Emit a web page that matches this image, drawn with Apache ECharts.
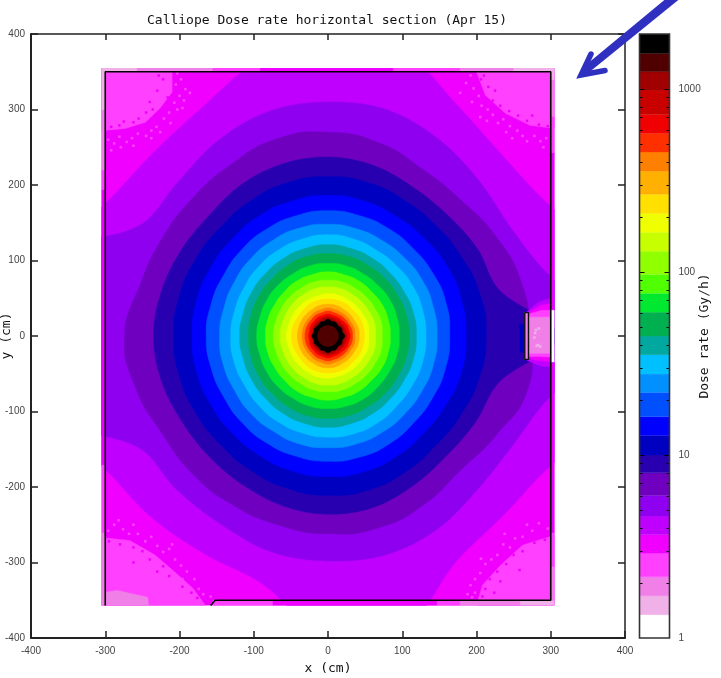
<!DOCTYPE html>
<html><head><meta charset="utf-8">
<style>html,body{margin:0;padding:0;background:#fff}#c{width:721px;height:678px}</style>
<script src="https://cdn.jsdelivr.net/npm/echarts@6/dist/echarts.min.js"></script>
</head><body><div id="c"></div>
<script>
// Dose-rate colour classes, low to high
const levels = [1,1.34,1.7,2.16,2.9,3.67,4.64,6,8,10,12.8,16.2,22,27.7,35.3,44.7,60.4,76.5,97,130,165,209,266,356,453,573,727,988,1243,1567,2000];
const colors = ['#ffffff','#f0b0e8','#f080e8','#ff40ff','#f000ff','#c000ff','#9000f0','#7000c0','#2800b0','#0000c0','#0000ff','#0050ff','#0090ff','#00c0ff','#00a8a0','#00b050','#00e830','#50ff00','#90ff00','#c8ff00','#f0ff00','#ffe000','#ffb000','#ff8000','#ff3000','#f00000','#c80000','#a00000','#500000','#000000'];
const minorTicks = [2,3,4,5,6,7,8,9,20,30,40,50,60,70,80,90,200,300,400,500,600,700,800,900];
const majorTicks = [10,100,1000];

// Contour radii (cm) read every 15 degrees, counter-clockwise from +x
const angleStep = 15;
const ring05 = [400,400,345,335,351,390,400,375,346,338,348,400,400,400,349,338,333,340,400,400,345,335,345,400];
const ring06 = [400,309,285,289,300,310,310,308,298,287,293,400,400,400,295,288,288,296,298,300,295,286,288,310];
const ring07 = [272,270,262,254,255,265,270,270,262,258,258,262,274,268,258,258,258,259,262,263,258,252,262,278];
const ring08 = [310,238,232,227,228,234,237,236,232,226,228,232,235,232,227,226,228,233,236,235,229,225,229,238];
const ring09 = [213,212,208,206,207,210,211,210,207,204,205,207,208,207,205,204,206,209,211,211,208,205,207,211];
const ring10 = [186,186,185,183,183,185,186,185,184,182,182,183,183,183,182,182,183,185,186,186,184,182,183,186];
const ring11 = [164,165,164,163,164,165,166,165,164,163,162,163,164,163,162,163,164,165,166,166,165,163,163,164];
const ring12 = [147,147,147,146,146,147,148,148,147,146,145,145,146,146,145,146,146,148,148,148,147,146,146,147];
const ring13 = [132,132,132,131,131,133,134,133,132,131,130,130,131,131,130,131,132,133,134,134,133,131,131,132];
const ring14 = [119,119,118,118,119,120,121,120,119,118,118,118,119,118,118,118,119,120,121,120,119,118,118,119];
const ring15 = [109,109,108,108,108,109,109,109,108,107,107,107,107,107,107,107,108,109,109,109,108,108,108,109];
const ring16 = [96,96,96,95,95,96,96,96,95,95,95,95,96,95,95,95,95,96,96,96,96,95,95,96];
const ring17 = [84,84,84,83,84,84,85,84,84,83,83,84,84,84,83,83,84,84,85,84,84,83,84,84];
const ring18 = [73,74,73,73,73,74,74,74,73,73,73,73,74,73,73,73,73,74,74,74,73,73,73,74];
const ring19 = [64,65,64,64,64,65,65,65,64,64,64,64,65,64,64,64,64,65,65,65,64,64,64,65];
const ring20 = [55,56,55,55,55,56,56,55,55,55,55,55,56,55,55,55,55,56,56,55,55,55,55,56];
const ring21 = [49,49,49,48,49,49,49,49,49,48,48,49,49,49,48,48,49,49,49,49,49,48,49,49];
const ring22 = [42,42,41,41,41,42,42,42,41,41,41,41,41,41,41,41,41,42,42,42,41,41,41,42];
const ring23 = [36,37,36,36,36,36,37,36,36,35,35,35,35,35,35,35,36,36,37,36,36,36,36,37];
const ring24 = [33,33,32,32,32,32,33,32,32,31,31,31,31,31,31,31,32,32,33,32,32,32,32,33];
const ring25 = [30,29,29,28,28,28,29,28,28,27,27,26,26,26,27,27,28,28,29,28,28,28,29,29];
const ring26 = [26,26,25,25,25,25,26,25,25,24,24,23,23,23,24,24,25,25,26,25,25,25,25,26];
const ring27 = [24,23,23,22,22,23,23,23,22,22,21,21,20,21,21,22,22,23,23,23,22,22,23,23];
const ring29 = [23,20,21,19,21,20,23,20,21,19,21,20,22,20,21,19,21,20,23,20,21,19,21,20];
const ring28 = [14,14,14,14,14,14,14,14,14,14,14,14,14,14,14,14,14,14,14,14,14,14,14,14];

// Section outline and other polygons read in cm
const sectionBox = [-305,355,305,355,305,-357,-305,-357];
const patchTopLeft = [-360,400,-210,400,-210,323,-226,302,-246,283,-273,275,-304,272,-360,272];
const patchTopRight = [198,400,198,355,212,319,239,295,272,279,305,275,360,275,360,400];
const patchBottomLeft = [-360,-267,-304,-267,-267,-271,-233,-290,-206,-313,-182,-334,-165,-357,-160,-400,-360,-400];
const patchBottomRight = [360,-264,305,-264,262,-277,232,-304,208,-330,202,-350,200,-400,360,-400];
const blotchBottomLeft = [-310,-341,-284,-337,-243,-346,-239,-380,-310,-380];
const doorStrip = [258,16,265,16,265,-21,258,-21];
const door5 = [268,32,284,45,300,50,300,-41,284,-39,268,-32];
const door4 = [270,31,288,41,300,43,300,-34,280,-32,270,-29];
const door3 = [270,29,288,34,300,34,300,-28,284,-27,270,-27];
const door2 = [270,25,300,25,300,-23,270,-23];
const shutter = [265,31,270,31,270,-31,265,-31];

// Scattered cells beside the corner patches: x, y pairs
const speckLight = [
 -203,348,-198,340,-205,333,-192,327,-186,322,-200,318,-207,309,-194,312,-214,296,-203,300,-221,288,-212,282,-231,277,-226,270,-238,272,-245,265,-256,268,-264,262,-271,257,-281,264,-288,255,-296,260,-292,246,-279,250,-262,252,-196,302,-238,262,
 192,345,186,335,196,328,203,318,194,310,207,305,215,300,222,293,214,285,229,282,236,287,245,278,240,270,255,272,262,265,268,258,278,265,286,258,294,262,290,250,248,262,205,290,178,322,
 -296,-258,-288,-250,-276,-256,-268,-262,-256,-262,-246,-272,-238,-266,-230,-278,-222,-286,-214,-282,-206,-296,-198,-304,-190,-312,-196,-322,-180,-322,-174,-335,-168,-342,-158,-345,-282,-244,-262,-250,-210,-276,
 296,-255,284,-248,275,-258,262,-266,252,-268,245,-280,236,-276,228,-290,220,-296,212,-302,205,-314,198,-322,192,-330,198,-340,188,-342,194,-346,268,-250,238,-262,206,-295];
const speckDark = [
 -222,340,-230,325,-216,316,-236,300,-245,296,-255,288,-262,283,-281,279,-292,277,-275,284,-240,310,-228,345,
 206,340,216,330,222,312,232,305,244,298,256,292,268,285,284,280,296,278,275,292,225,325,210,345,
 -295,-272,-280,-276,-262,-280,-250,-285,-240,-296,-222,-305,-214,-318,-196,-332,-184,-340,-176,-347,-230,-312,-262,-300,
 292,-270,278,-274,262,-285,250,-290,240,-302,228,-312,218,-322,212,-335,208,-345,232,-325,258,-310,224,-340];
const speckDoor = [280,8,284,10,279,4,278,-2,281,-13,286,-14,283,-12];

// Outer fringe strips: x1, y1, x2, y2, colour class
const fringeTop = [[-305,350,-257,355,1],[-257,350,-155,355,2],[-155,350,-91,355,3],[-91,350,88,355,4],[88,350,178,355,3],[178,350,250,355,2],[250,350,305,355,1]];
const fringeBottom = [[-155,-357,-74,-350,3],[-74,-357,147,-350,4],[147,-357,178,-350,3],[178,-357,259,-350,2],[259,-357,305,-350,1]];
const fringeLeft = [[-305,299,-300,355,1],[-305,219,-300,299,2],[-305,193,-300,219,3],[-305,-171,-300,193,4],[-305,-261,-300,-171,3],[-305,-357,-300,-261,2]];
const fringeRight = [[300,339,305,355,1],[300,290,305,339,2],[300,242,305,290,3],[300,34,305,242,4],[300,-35,305,34,0],[300,-261,305,-35,4],[300,-306,305,-261,3],[300,-350,305,-306,2]];

const wallX = [-300,-300,300,300,-152,-158];
const wallY = [-357,350,350,-350,-350,-357];
const shutterX = [265,270,270,265,265];
const shutterY = [31,31,-31,-31,31];

function flat(a){const o=[];for(let i=0;i<a.length;i+=2)o.push([a[i],a[i+1]]);return o;}
function ring(r){return r.map((v,i)=>{const t=i*angleStep*Math.PI/180;return [v*Math.cos(t),v*Math.sin(t)];});}
function box(f){return [[f[0],f[1]],[f[2],f[1]],[f[2],f[3]],[f[0],f[3]]];}

const polys = [
 {b:4,p:flat(sectionBox)},
 {b:3,p:flat(patchTopLeft)},{b:3,p:flat(patchTopRight)},{b:3,p:flat(patchBottomLeft)},{b:3,p:flat(patchBottomRight)},
 {b:2,p:flat(blotchBottomLeft)},
 {b:5,p:ring(ring05),s:0.35},
 {b:6,p:ring(ring06),s:0.35},{b:7,p:ring(ring07),s:0.5},{b:8,p:ring(ring08),s:0.35}
];
[ring09,ring10,ring11,ring12,ring13,ring14,ring15,ring16,ring17,ring18,ring19,ring20,ring21,ring22,ring23,ring24,ring25,ring26,ring27].forEach((r,i)=>polys.push({b:9+i,p:ring(r),s:0.5}));
polys.push({b:29,p:ring(ring29)},{b:28,p:ring(ring28),s:0.5},
 {b:9,p:flat(doorStrip)},{b:5,p:flat(door5)},{b:4,p:flat(door4)},{b:3,p:flat(door3)},{b:2,p:flat(door2)},{b:2,p:flat(shutter)});
fringeLeft.concat(fringeTop,fringeBottom,fringeRight).forEach(f=>polys.push({b:f[4],p:box(f)}));

const barData = colors.map((c,i)=>[0,1,levels[i],levels[i+1],i]);
const tickData = minorTicks.map(v=>[v,3]).concat(majorTicks.map(v=>[v,5]));

const chart = echarts.init(document.getElementById('c'),null,{renderer:'canvas'});
const mono = '"DejaVu Sans Mono"';
const lab = {fontFamily:'"Liberation Sans"',fontSize:10,color:'#444'};
const speck = (pts,c)=>({type:'scatter',xAxisIndex:0,yAxisIndex:0,z:2,silent:true,symbol:'rect',symbolSize:2.5,
   data:flat(pts),itemStyle:{color:c,opacity:1}});
chart.setOption({
 animation:false,
 backgroundColor:'#fff',
 title:{text:'Calliope Dose rate horizontal section (Apr 15)',left:322,top:9,textAlign:'center',
  textStyle:{fontFamily:mono,fontSize:13,fontWeight:'normal',color:'#111'}},
 grid:[{left:31,top:34,width:594,height:604,outerBoundsMode:'none'},{left:639.5,top:34,width:30,height:604,outerBoundsMode:'none'}],
 xAxis:[
  {gridIndex:0,type:'value',min:-400,max:400,interval:100,position:'bottom',splitLine:{show:false},
   axisLine:{onZero:false,lineStyle:{color:'#222',width:2}},axisTick:{inside:true,length:7,lineStyle:{color:'#222',width:1.5}},
   axisLabel:Object.assign({margin:8},lab),name:'x (cm)',nameLocation:'middle',nameGap:24,
   nameTextStyle:{fontFamily:mono,fontSize:13,color:'#111'}},
  {gridIndex:0,type:'value',min:-400,max:400,interval:100,position:'top',splitLine:{show:false},
   axisLine:{onZero:false,lineStyle:{color:'#222',width:1.5}},axisTick:{inside:true,length:6,lineStyle:{color:'#222',width:1.5}},axisLabel:{show:false}},
  {gridIndex:1,type:'value',min:0,max:1,show:false}
 ],
 yAxis:[
  {gridIndex:0,type:'value',min:-400,max:400,interval:100,position:'left',splitLine:{show:false},
   axisLine:{onZero:false,lineStyle:{color:'#222',width:2}},axisTick:{inside:true,length:7,lineStyle:{color:'#222',width:1.5}},
   axisLabel:Object.assign({margin:6},lab),name:'y (cm)',nameLocation:'middle',nameGap:18,nameRotate:90,nameMoveOverlap:false,
   nameTextStyle:{fontFamily:mono,fontSize:13,color:'#111'}},
  {gridIndex:0,type:'value',min:-400,max:400,interval:100,position:'right',splitLine:{show:false},
   axisLine:{onZero:false,lineStyle:{color:'#222',width:1.5}},axisTick:{inside:true,length:7,lineStyle:{color:'#222',width:1.5}},axisLabel:{show:false}},
  {gridIndex:1,type:'log',logBase:10,min:1,max:2000,position:'right',splitLine:{show:false},
   axisLine:{show:false},axisTick:{show:false},
   axisLabel:Object.assign({margin:9,formatter:v=>[1,10,100,1000].includes(Math.round(v))?String(Math.round(v)):''},lab),
   name:'Dose rate (Gy/h)',nameLocation:'middle',nameGap:29,nameRotate:90,nameMoveOverlap:false,
   nameTextStyle:{fontFamily:mono,fontSize:13,color:'#111'}}
 ],
 series:[
  {type:'custom',xAxisIndex:0,yAxisIndex:0,coordinateSystem:'cartesian2d',clip:true,z:1,silent:true,
   encode:{x:0,y:1},data:polys.map((_, i)=>[i,0]),
   renderItem(params,api){
     const item = polys[api.value(0)];
     const a = api.coord([-305,355]), b = api.coord([305,-357]);
     return {type:'polygon',shape:{points:item.p.map(q=>api.coord(q)),smooth:item.s||0},
       clipPath:{type:'rect',shape:{x:a[0],y:a[1],width:b[0]-a[0],height:b[1]-a[1]}},
       style:{fill:colors[item.b],stroke:colors[item.b],lineWidth:0.5}};
   }},
  speck(speckLight,colors[3]),
  speck(speckDark,colors[4]),
  speck(speckDoor,colors[1]),
  {type:'line',xAxisIndex:0,yAxisIndex:0,z:3,silent:true,showSymbol:false,clip:false,
   data:wallX.map((x,i)=>[x,wallY[i]]),lineStyle:{color:'#000',width:1.6}},
  {type:'line',xAxisIndex:0,yAxisIndex:0,z:3,silent:true,showSymbol:false,clip:false,
   data:shutterX.map((x,i)=>[x,shutterY[i]]),lineStyle:{color:'#111',width:1.4}},
  {type:'custom',xAxisIndex:2,yAxisIndex:2,coordinateSystem:'cartesian2d',z:1,silent:true,clip:true,
   encode:{x:0,y:2},data:barData,
   renderItem(params,api){
     const p0 = api.coord([api.value(0),api.value(3)]), p1 = api.coord([api.value(1),api.value(2)]);
     const c = colors[api.value(4)];
     return {type:'rect',shape:{x:p0[0],y:p0[1],width:p1[0]-p0[0],height:p1[1]-p0[1]},style:{fill:c,stroke:c,lineWidth:0.3}};
   }},
  {type:'custom',xAxisIndex:2,yAxisIndex:2,coordinateSystem:'cartesian2d',z:4,silent:true,clip:false,
   encode:{y:0},data:tickData,
   renderItem(params,api){
     const l = api.coord([0,api.value(0)]), r = api.coord([1,api.value(0)]), n = api.value(1);
     const y = Math.round(l[1])+0.5;
     return {type:'group',children:[
       {type:'line',shape:{x1:l[0],y1:y,x2:l[0]+n,y2:y},style:{stroke:'#000',lineWidth:1}},
       {type:'line',shape:{x1:r[0]-n,y1:y,x2:r[0],y2:y},style:{stroke:'#000',lineWidth:1}}]};
   }},
  {type:'custom',xAxisIndex:2,yAxisIndex:2,coordinateSystem:'cartesian2d',z:5,silent:true,clip:false,
   encode:{y:1},data:[[0,1]],
   renderItem(params,api){
     const a = api.coord([0,2000]), b = api.coord([1,1]);
     return {type:'rect',shape:{x:a[0],y:a[1],width:b[0]-a[0],height:b[1]-a[1]},style:{fill:'none',stroke:'#333',lineWidth:1.6}};
   }}
 ],
 graphic:[
  {type:'polygon',z:100,silent:true,shape:{points:[[668,-3],[682,-3],[587,74],[581,69]]},style:{fill:'#3030c0'}},
  {type:'polyline',z:100,silent:true,shape:{points:[[591,54],[581,75],[605,70.5]]},style:{stroke:'#3030c0',lineWidth:5.5,lineCap:'round',lineJoin:'miter',fill:'none'}}
 ]
});
</script></body></html>
